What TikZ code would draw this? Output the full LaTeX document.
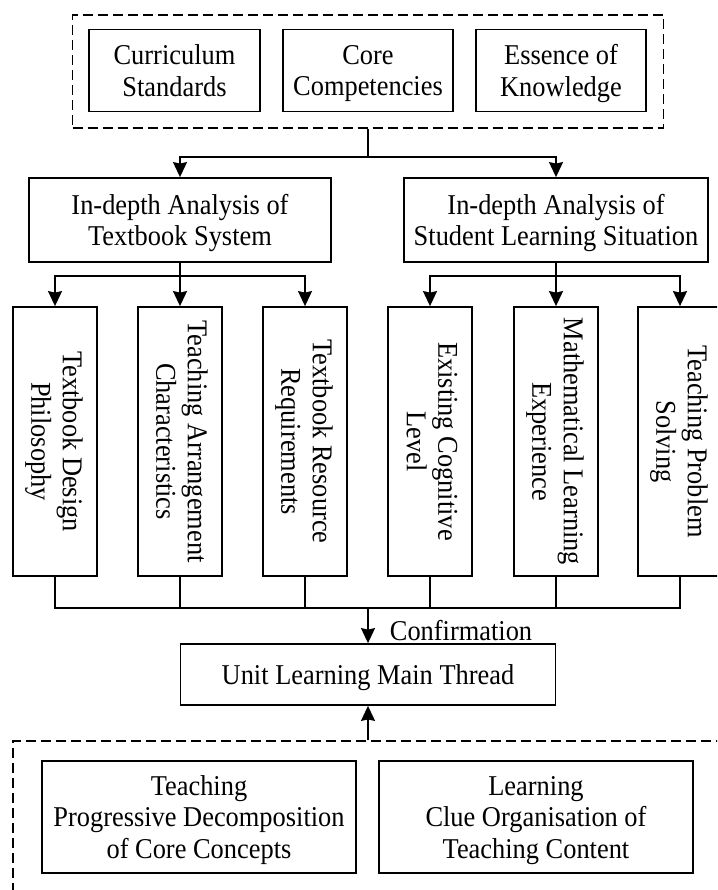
\documentclass[tikz,border=0pt]{standalone}
\usepackage{fontspec}
\setmainfont{Liberation Serif}[FakeStretch=0.92]
\usetikzlibrary{arrows.meta}
\newcommand{\topstrut}{\rule{0pt}{20.5pt}}
\begin{document}
\begin{tikzpicture}[x=1pt,y=-1pt,
  font=\fontsize{28.7}{31.5}\selectfont,
  line width=1.8pt,
  box/.style={draw,rectangle,inner sep=0pt,align=center,text depth=0pt,execute at begin node=\topstrut},
  dbox/.style={draw,rectangle,inner sep=0pt,dash pattern=on 10pt off 5pt},
  vbox/.style={draw,rectangle,inner sep=0pt,minimum width=84pt,minimum height=269pt},
  vtext/.style={rotate=-90,align=center,inner sep=0pt,text depth=0pt,execute at begin node=\topstrut},
  arr/.style={-{Stealth[length=15pt,width=14pt,inset=1.5pt]}}]
\useasboundingbox (0,0) rectangle (717,890);
\clip (0,0) rectangle (717,890);
% top group
\node[dbox,minimum width=591pt,minimum height=113pt] (top) at (368,71.5) {};
\node[box,minimum width=171pt,minimum height=82pt] (cs) at (174.5,70.5) {Curriculum\\Standards};
\node[box,minimum width=170pt,minimum height=82pt] (cc) at (368,70.5) {Core\\Competencies};
\node[box,minimum width=170pt,minimum height=82pt] (ek) at (561,70.5) {Essence of\\Knowledge};
% analysis
\node[box,minimum width=302pt,minimum height=84pt] (ta) at (180,220) {In-depth Analysis of\\Textbook System};
\node[box,minimum width=304pt,minimum height=84pt] (sa) at (556,220) {In-depth Analysis of\\Student Learning Situation};
\draw (top.south) -- (368,157) coordinate (j1);
\draw[arr] (j1) -| (ta.north);
\draw[arr] (j1) -| (sa.north);
% vertical boxes
\node[vbox] (v1) at (55,441.5) {};
\node[vbox] (v2) at (180,441.5) {};
\node[vbox] (v3) at (305,441.5) {};
\node[vbox] (v4) at (430,441.5) {};
\node[vbox] (v5) at (556,441.5) {};
\node[vbox] (v6) at (680,441.5) {};
\node[vtext] at ([xshift=2pt]v1) {Textbook Design\\Philosophy};
\node[vtext] at ([xshift=2pt]v2) {Teaching Arrangement\\Characteristics};
\node[vtext] at ([xshift=2pt]v3) {Textbook Resource\\Requirements};
\node[vtext] at ([xshift=2pt]v4) {Existing Cognitive\\Level};
\node[vtext] at ([xshift=2pt]v5) {Mathematical Learning\\Experience};
\node[vtext] at ([xshift=2pt]v6) {Teaching Problem\\Solving};
\draw (ta.south) -- (180,276) coordinate (j2);
\draw[arr] (j2) -| (v1.north);
\draw[arr] (j2) -- (v2.north);
\draw[arr] (j2) -| (v3.north);
\draw (sa.south) -- (556,276) coordinate (j3);
\draw[arr] (j3) -| (v4.north);
\draw[arr] (j3) -- (v5.north);
\draw[arr] (j3) -| (v6.north);
% join
\coordinate (jb) at (368,608);
\draw (v1.south) |- (jb);
\draw (v6.south) |- (jb);
\draw (v2.south) -- (v2.south |- jb);
\draw (v3.south) -- (v3.south |- jb);
\draw (v4.south) -- (v4.south |- jb);
\draw (v5.south) -- (v5.south |- jb);
% unit
\node[box,minimum width=375pt,minimum height=61pt] (unit) at (368,674.5) {Unit Learning Main Thread};
\draw[arr] (jb) -- (unit.north);
\node[anchor=base west,inner sep=0pt] (conf) at (389,640) {Confirmation};
% bottom group
\node[dbox,minimum width=747pt,minimum height=209pt] (bot) at (386.5,845.5) {};
\node[box,minimum width=314pt,minimum height=112pt] (tc) at (199,817) {Teaching\\Progressive Decomposition\\of Core Concepts};
\node[box,minimum width=314pt,minimum height=112pt] (lc) at (536,817) {Learning\\Clue Organisation of\\Teaching Content};
\draw[arr] (unit.south |- bot.north) -- (unit.south);
\end{tikzpicture}
\end{document}
